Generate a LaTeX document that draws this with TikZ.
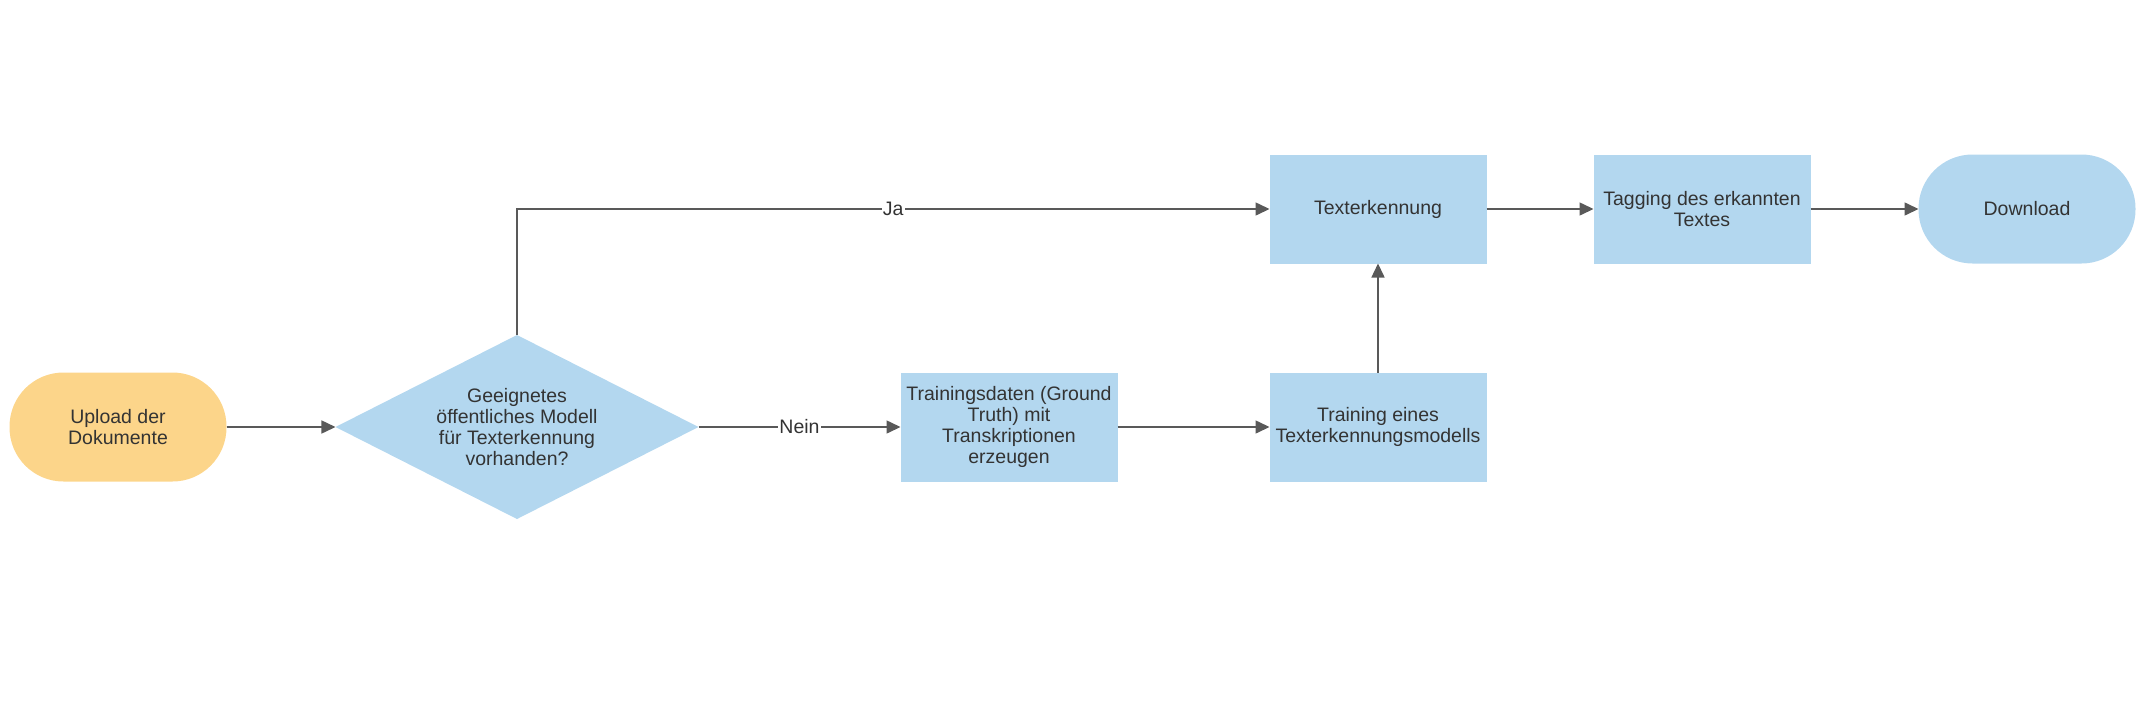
\documentclass[tikz,border=0pt]{standalone}
\usepackage{fontspec}
\setmainfont{Liberation Sans}
\usetikzlibrary{shapes.geometric, arrows.meta, positioning}
\definecolor{boxblue}{HTML}{B3D7EF}
\definecolor{startorange}{HTML}{FCD58A}
\definecolor{linegray}{HTML}{595959}
\definecolor{textgray}{HTML}{333333}
\tikzstyle{arrow} = [line width=1.5pt, linegray, -{Triangle[length=14pt,width=13pt]}]
\tikzstyle{block} = [rectangle, fill=boxblue, text=textgray, align=center, font=\fontsize{19.5}{21}\selectfont, minimum width=217pt, minimum height=109pt, inner sep=2pt, outer sep=0pt]
\tikzstyle{terminal} = [block, rounded corners=54pt]
\tikzstyle{decision} = [diamond, aspect=2, fill=boxblue, text=textgray, align=center, font=\fontsize{19.5}{21}\selectfont, minimum width=363pt, minimum height=184pt, inner sep=0pt, outer sep=0pt]
\tikzstyle{edgelabel} = [fill=white, text=textgray, font=\fontsize{19.5}{21}\selectfont, inner sep=1pt]

\begin{document}
\begin{tikzpicture}[x=1pt, y=-1pt]
    \useasboundingbox (0,0) rectangle (2151,720);
    % Nodes
    \node (upload) [terminal, fill=startorange] at (118,427) {Upload der\\Dokumente};
    \node (decision) [decision, right=109pt of upload] {Geeignetes\\öffentliches Modell\\für Texterkennung\\vorhanden?};
    \node (gtdata) [block, right=202pt of decision] {Trainingsdaten (Ground\\Truth) mit\\Transkriptionen\\erzeugen};
    \node (training) [block, right=152pt of gtdata] {Training eines\\Texterkennungsmodells};
    \node (ocr) [block, above=109pt of training] {Texterkennung};
    \node (tagging) [block, right=107pt of ocr] {Tagging des erkannten\\Textes};
    \node (download) [terminal, right=108pt of tagging] {Download};

    % Arrows
    \draw [arrow] (upload) -- (decision);
    \draw [arrow] (decision.north) |- node[edgelabel, pos=0.75] {Ja} (ocr);
    \draw [arrow] (decision) -- node[edgelabel] {Nein} (gtdata);
    \draw [arrow] (gtdata) -- (training);
    \draw [arrow] (training) -- (ocr);
    \draw [arrow] (ocr) -- (tagging);
    \draw [arrow] (tagging) -- (download);
\end{tikzpicture}
\end{document}
